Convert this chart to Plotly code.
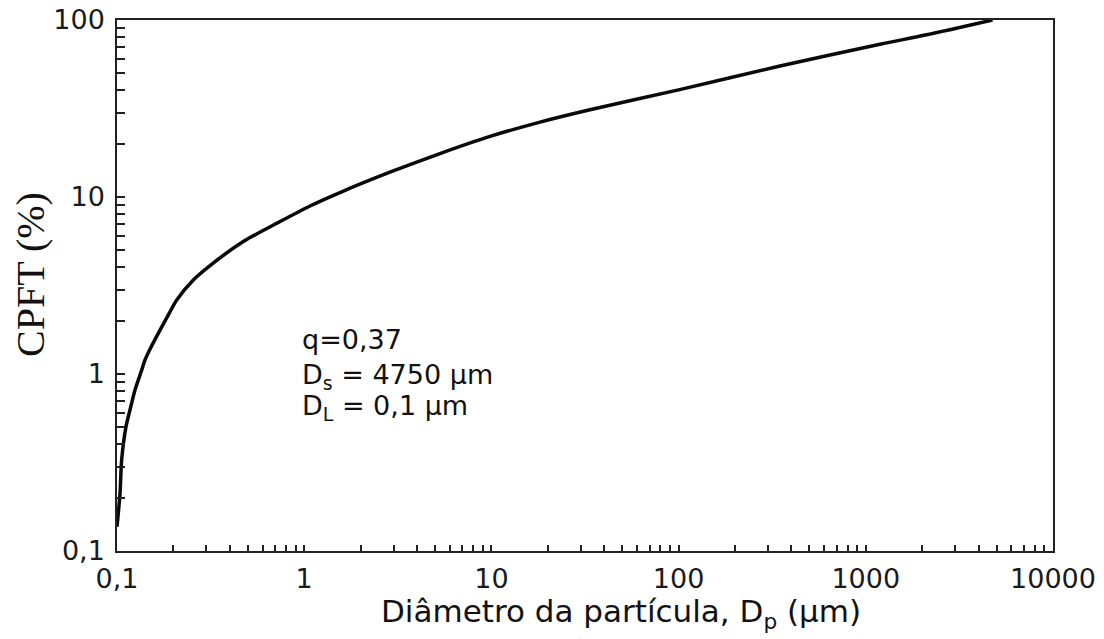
import plotly.graph_objects as go

# Curve
dp = [0.1, 0.1038, 0.1059, 0.1117, 0.1173, 0.1248, 0.1355, 0.1411, 0.15, 0.1697, 0.19, 0.2084,
      0.2557, 0.314, 0.473, 0.713, 1.074, 1.553, 2.87, 5.31, 9.83,
      18.2, 33.6, 100, 348, 1191, 2115, 4750]
cpft = [0.137, 0.212, 0.327, 0.504, 0.626, 0.812, 1.053, 1.2, 1.38, 1.77, 2.2, 2.62,
        3.40, 4.1, 5.6, 7.1, 8.9, 10.6, 13.8, 17.6, 22.0,
        26.5, 31.1, 40.3, 55.0, 73.0, 82.5, 100]

# Tick labels
x_decades = [0.1, 1, 10, 100, 1000, 10000]
x_labels = ["0,1", "1", "10", "100", "1000", "10000"]
y_decades = [0.1, 1, 10, 100]
y_labels = ["0,1", "1", "10", "100"]

notes = ["q=0,37", "D<sub>s</sub> = 4750 μm", "D<sub>L</sub> = 0,1 μm"]
x_title = "Diâmetro da partícula, D<sub>p</sub> (μm)"
y_title = "CPFT (%)"


def log_ticks(decades, labels):
    vals, texts = [], []
    for i, d in enumerate(decades):
        vals.append(d)
        texts.append(labels[i])
        if i < len(decades) - 1:
            for m in range(2, 10):
                vals.append(round(d * m, 6))
                texts.append("")
    return vals, texts


xt_vals, xt_text = log_ticks(x_decades, x_labels)
yt_vals, yt_text = log_ticks(y_decades, y_labels)

sans = "DejaVu Sans"
tick_font = dict(family=sans, size=27, color="#1a1a1a")

fig = go.Figure()
fig.add_trace(go.Scatter(x=dp, y=cpft, mode="lines",
                         line=dict(color="#0a0a0a", width=3.5, shape="spline", smoothing=0.8),
                         showlegend=False, hoverinfo="skip"))

fig.update_xaxes(type="log", range=[-1, 4], tickvals=xt_vals, ticktext=xt_text,
                 ticks="inside", ticklen=6, tickwidth=1.5, tickcolor="#222",
                 showline=True, linecolor="#222", linewidth=1.5, mirror=True,
                 showgrid=False, zeroline=False, tickfont=tick_font,
                 automargin=False, ticklabelstandoff=3)
fig.update_yaxes(type="log", range=[-1, 2], tickvals=yt_vals, ticktext=yt_text,
                 ticks="inside", ticklen=8, tickwidth=1.5, tickcolor="#222",
                 showline=True, linecolor="#222", linewidth=1.5, mirror=True,
                 showgrid=False, zeroline=False, tickfont=tick_font,
                 automargin=False, ticklabelstandoff=5)

note_y = [0.399, 0.328, 0.271]
for t, yy in zip(notes, note_y):
    fig.add_annotation(text=t, xref="paper", yref="paper", x=0.1955, y=yy,
                       xanchor="left", yanchor="middle", showarrow=False,
                       font=dict(family=sans, size=27, color="#111"))

fig.add_annotation(text=x_title, xref="paper", yref="paper", x=(621 - 117) / 936, y=-0.117,
                   xanchor="center", yanchor="middle", showarrow=False,
                   font=dict(family=sans, size=31, color="#111"))
fig.add_annotation(text=y_title, xref="paper", yref="paper", x=-0.093, y=(551 - 274) / 531,
                   xanchor="center", yanchor="middle", showarrow=False, textangle=-90,
                   font=dict(family="Liberation Serif", size=40, color="#111"))

fig.update_layout(width=1104, height=639, paper_bgcolor="white", plot_bgcolor="white",
                  margin=dict(l=117, r=51, t=20, b=88, autoexpand=False))

fig.write_html("out.html", config={"displayModeBar": False},
               post_script="document.body.style.margin='0';")
